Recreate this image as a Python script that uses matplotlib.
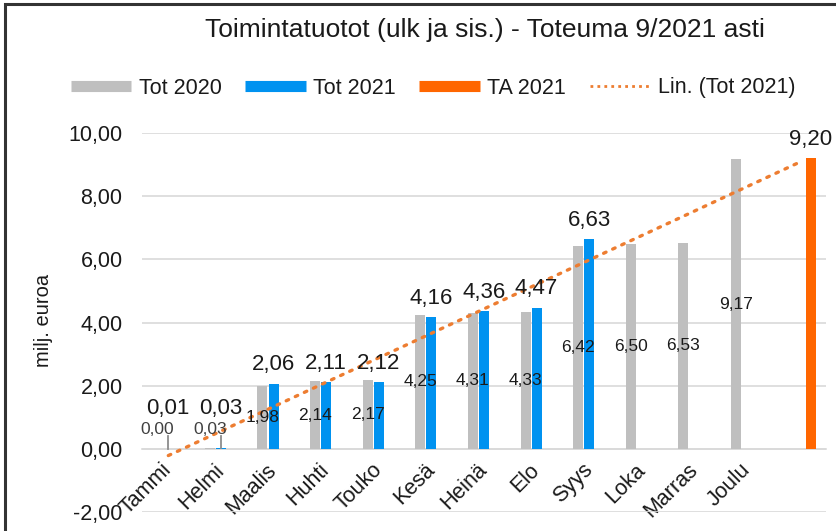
import numpy as np
import matplotlib
matplotlib.use("Agg")
import matplotlib.pyplot as plt
import matplotlib.transforms as mtrans
from matplotlib.lines import Line2D
from matplotlib.patches import Rectangle
from matplotlib.ticker import FuncFormatter

plt.rcParams['font.family'] = ['Liberation Sans', 'DejaVu Sans']

MONTHS = ['Tammi', 'Helmi', 'Maalis', 'Huhti', 'Touko', 'Kesä', 'Heinä',
          'Elo', 'Syys', 'Loka', 'Marras', 'Joulu', '']
TOT_2020 = [0.00, 0.03, 1.98, 2.14, 2.17, 4.25, 4.31, 4.33, 6.42, 6.50, 6.53, 9.17]
TOT_2021 = [0.01, 0.03, 2.06, 2.11, 2.12, 4.16, 4.36, 4.47, 6.63]
TA_2021 = [9.20]   # sits in the 13th (empty) category

GRAY = '#BFBFBF'
BLUE = '#0092F0'
ORANGE = '#FF6600'
TREND = '#ED7D31'
TXT = '#1a1a1a'


def fmt(v):
    return ('%.2f' % v).replace('.', ',')


fig = plt.figure(figsize=(8.36, 5.31), dpi=100)
ax = fig.add_axes([142 / 836, 19 / 531, 684 / 836, 379 / 531])

x = np.arange(len(MONTHS))
off = 0.21
w = 0.19

x20 = x[:len(TOT_2020)] - off
x21 = x[:len(TOT_2021)]
xta = x[len(MONTHS) - len(TA_2021):] + off

ax.bar(x20, TOT_2020, w, color=GRAY, zorder=3)
ax.bar(x21, TOT_2021, w, color=BLUE, zorder=3)
ax.bar(xta, TA_2021, w, color=ORANGE, zorder=3)

# linear trend of Tot 2021, extended to the end of the axis
k, b = np.polyfit(x21, TOT_2021, 1)
xt = np.array([x[0], x[-1]])
ax.plot(xt, k * xt + b, color=TREND, lw=2.4, linestyle=(0, (0.8, 2.2)),
        dash_capstyle='round', zorder=4)

# labels: 2020 in the middle of the bar, 2021 / TA above
LIFT = 0.62  # tiny 2020 values get pushed up with a leader line
for i, (xi, v) in enumerate(zip(x20, TOT_2020)):
    if v < 0.5:
        ax.text(xi, LIFT, fmt(v), ha='center', va='center', fontsize=12.5,
                color='#404040', zorder=5)
        ax.plot([x[i], x[i]], [v, LIFT - 0.2], color='#8c8c8c', lw=1.3, zorder=4)
    else:
        ax.text(xi, v / 2, fmt(v), ha='center', va='center', fontsize=12.5,
                color=TXT, zorder=5)

for xi, v in zip(x21, TOT_2021):
    dy = 21 if v < 0.5 else 6
    ax.annotate(fmt(v), xy=(xi, v), xytext=(0, dy), textcoords='offset points',
                ha='center', va='bottom', fontsize=16, color=TXT, zorder=5)

for xi, v in zip(xta, TA_2021):
    ax.annotate(fmt(v), xy=(xi, v), xytext=(0, 6), textcoords='offset points',
                ha='center', va='bottom', fontsize=16, color=TXT, zorder=5,
                annotation_clip=False)

ax.set_xlim(-0.5, len(MONTHS) - 0.5)
ax.set_ylim(-2, 10)
ax.set_yticks(np.arange(-2, 10.1, 2))
ax.yaxis.set_major_formatter(FuncFormatter(lambda v, p: fmt(v)))
ax.grid(axis='y', color='#D9D9D9', lw=1.2, zorder=0)
ax.set_axisbelow(True)

for s in ['top', 'right', 'left']:
    ax.spines[s].set_visible(False)
ax.spines['bottom'].set_position(('data', 0))
ax.spines['bottom'].set_color('#D9D9D9')
ax.spines['bottom'].set_linewidth(1.2)

ax.set_xticks(x)
ax.set_xticklabels(MONTHS, rotation=45, ha='right', va='center',
                   rotation_mode='anchor', fontsize=15.5, color=TXT)
shift = mtrans.ScaledTranslation(9 / 100, 0, fig.dpi_scale_trans)
for lab in ax.get_xticklabels():
    lab.set_transform(lab.get_transform() + shift)
ax.tick_params(axis='x', length=0, pad=13)
ax.tick_params(axis='y', length=0, pad=14, labelsize=15.5, labelcolor=TXT)
ax.set_ylabel('milj. euroa', fontsize=14.5, color=TXT)
ax.yaxis.set_label_coords(-89 / 684, 0.505)

fig.text(485 / 836, 1 - 30 / 531, 'Toimintatuotot (ulk ja sis.) - Toteuma 9/2021 asti',
         ha='center', va='center', fontsize=19, color=TXT)

handles = [
    Line2D([], [], color=GRAY, lw=8, solid_capstyle='butt'),
    Line2D([], [], color=BLUE, lw=8, solid_capstyle='butt'),
    Line2D([], [], color=ORANGE, lw=8, solid_capstyle='butt'),
    Line2D([], [], color=TREND, lw=2, linestyle=(0, (1, 1.5))),
]
fig.legend(handles, ['Tot 2020', 'Tot 2021', 'TA 2021', 'Lin. (Tot 2021)'],
           ncol=4, loc='center', bbox_to_anchor=(433 / 836, 1 - 88 / 531),
           frameon=False, fontsize=15.5, handlelength=2.8, handletextpad=0.35,
           columnspacing=1.1, labelcolor=TXT)

# outer chart frame (cut off at right and bottom in the original)
fig.patches.append(Rectangle((5 / 836, -0.1), 1.2, 1.1 - 4 / 531,
                             transform=fig.transFigure, fill=False,
                             edgecolor='#333333', lw=2.2))

fig.savefig('out.png', dpi=100)
